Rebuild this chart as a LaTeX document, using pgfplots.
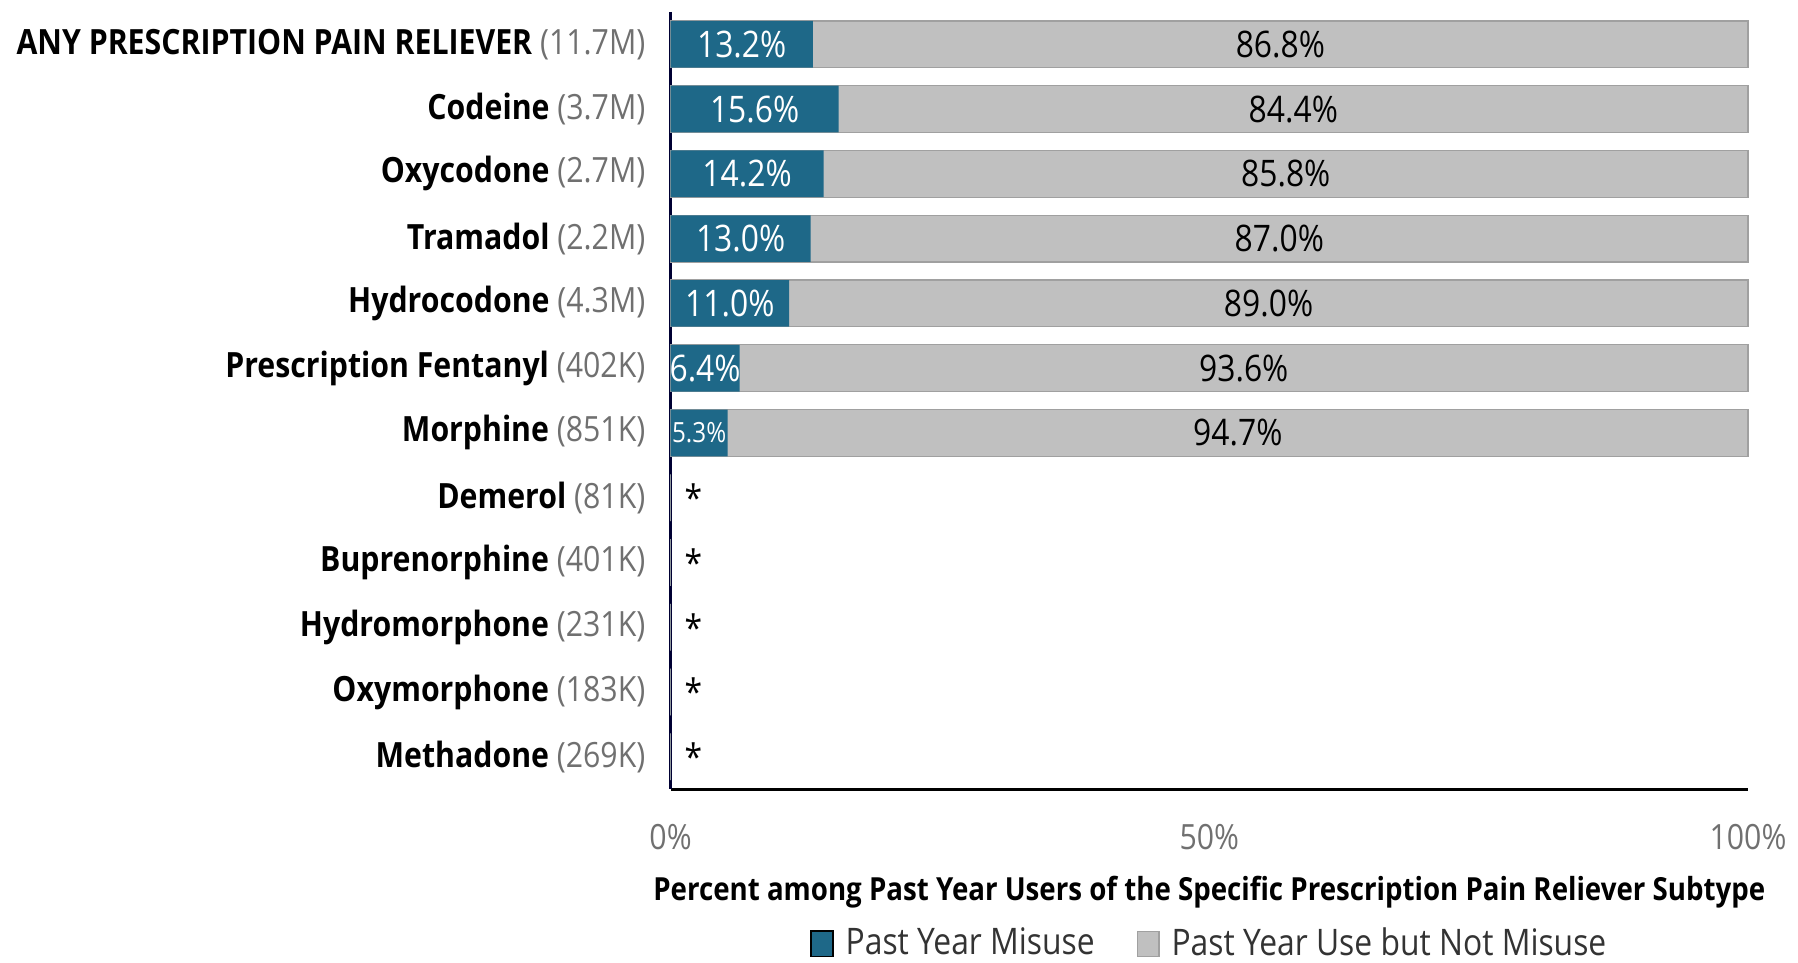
\documentclass[border=0pt]{standalone}
\usepackage{fontspec}
\setmainfont{Open Sans}[FakeStretch=0.87]
\usepackage{pgfplots}
\pgfplotsset{compat=1.18}
\usepackage{pgfplotstable}

\definecolor{misuse}{RGB}{30,104,136}
\definecolor{notmis}{RGB}{192,192,192}
\definecolor{notmisedge}{RGB}{160,160,160}
\definecolor{cnt}{RGB}{112,112,112}

% row: 0 = top; zero rows are suppressed estimates (*)
\pgfplotstableread{
row mis rest
0 13.2 86.8
1 15.6 84.4
2 14.2 85.8
3 13.0 87.0
4 11.0 89.0
5 6.4 93.6
6 5.3 94.7
7 0 0
8 0 0
9 0 0
10 0 0
11 0 0
}\data

\newcommand{\lab}[2]{\textbf{#1} \textcolor{cnt}{(#2)}}

\begin{document}
\fontsize{8.75}{10}\selectfont
\begin{tikzpicture}
\begin{axis}[
    scale only axis,
    width=271pt, height=195.5pt,
    xbar, bar shift=0pt,
    bar width=11.75pt,
    xmin=0, xmax=100,
    ymin=-0.5, ymax=11.5,
    y dir=reverse,
    axis x line*=bottom,
    axis y line*=left,
    x axis line style={-, line width=0.8pt, black},
    y axis line style={-, line width=0.7pt, black!80!blue},
    major tick length=0pt,
    /pgf/number format/assume math mode=true,
    xtick={0,50,100},
    xticklabels={0\%,50\%,100\%},
    xticklabel style={anchor=center, yshift=-12pt, text=cnt, font=\fontsize{8.75}{10}\selectfont},
    ytick={0,...,11},
    yticklabels={
        \lab{ANY PRESCRIPTION PAIN RELIEVER}{11.7M},
        \lab{Codeine}{3.7M},
        \lab{Oxycodone}{2.7M},
        \lab{Tramadol}{2.2M},
        \lab{Hydrocodone}{4.3M},
        \lab{Prescription Fentanyl}{402K},
        \lab{Morphine}{851K},
        \lab{Demerol}{81K},
        \lab{Buprenorphine}{401K},
        \lab{Hydromorphone}{231K},
        \lab{Oxymorphone}{183K},
        \lab{Methadone}{269K}},
    yticklabel style={xshift=-3.25pt, font=\fontsize{8.75}{10}\selectfont},
    xlabel={\textbf{Percent among Past Year Users of the Specific Prescription Pain Reliever Subtype}},
    xlabel style={at={(axis description cs:0.5,-0.1330)}, anchor=center, font=\fontsize{8}{10}\selectfont},
    legend style={at={(axis description cs:0.5,-0.1990)}, anchor=center, draw=none,
        inner sep=0pt, legend columns=2, font=\fontsize{9.2}{10}\selectfont, text=black!80,
        nodes={inner sep=0.5pt},
        /tikz/every odd column/.append style={column sep=2.5pt},
        /tikz/every even column/.append style={column sep=10pt}},
    legend image code/.code={\draw[#1] (0pt,-3.2pt) rectangle (5.5pt,3.2pt);},
    clip=false,
]
% full bar: misuse + use but not misuse
\addplot[fill=notmis, draw=notmisedge, line width=0.3pt, forget plot,
    visualization depends on={\thisrow{rest} \as \rest},
    nodes near coords={\ifdim\rest pt>0pt \pgfmathprintnumber[fixed,fixed zerofill,precision=1]{\rest}\%\fi},
    nodes near coords style={anchor=center, text=black, xshift=-1.355pt*\rest, font=\fontsize{9.2}{10}\selectfont},
    ] table[x expr=\thisrow{mis}+\thisrow{rest}, y=row] {\data};
\addplot[fill=misuse, draw=none,
    visualization depends on={\thisrow{mis} \as \mis},
    nodes near coords={\ifdim\mis pt>0pt \ifdim\mis pt<6pt\fontsize{7}{8}\selectfont\fi\pgfmathprintnumber[fixed,fixed zerofill,precision=1]{\mis}\%\else\textcolor{black}{\hspace*{11.5pt}*}\fi},
    nodes near coords style={anchor=center, text=white, xshift=-1.355pt*\mis, font=\fontsize{9.2}{10}\selectfont},
    ] table[x=mis, y=row] {\data};
\addlegendentry{Past Year Misuse}
\addlegendimage{fill=notmis, draw=notmisedge, line width=0.3pt}
\addlegendentry{Past Year Use but Not Misuse}
\end{axis}
% blank margin above the axis and left of the labels, as in the reference
\path (current axis.north west) ++(0,3pt);
\path (current bounding box.west) ++(-1.25pt,0);
\end{tikzpicture}
\end{document}
